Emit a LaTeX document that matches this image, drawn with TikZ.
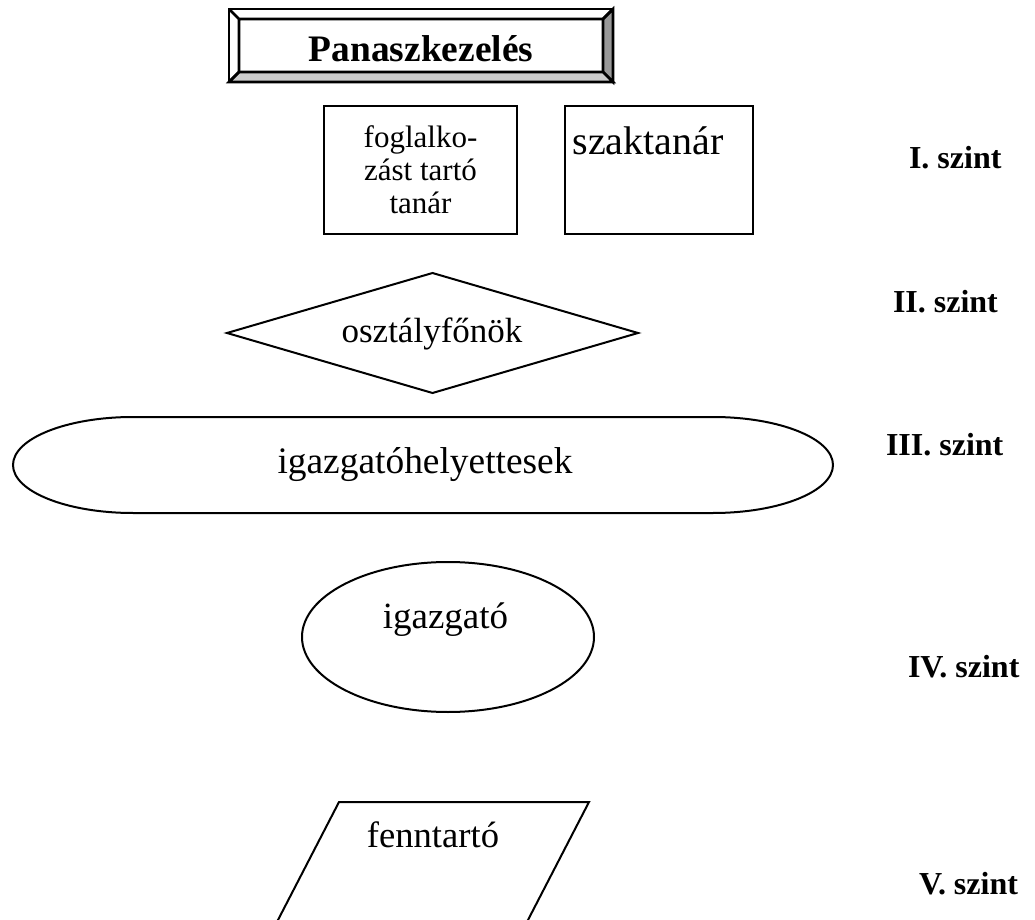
\documentclass[tikz,border=0pt]{standalone}
\usepackage{fontspec}
\setmainfont{Liberation Serif}
\usetikzlibrary{positioning}
\usetikzlibrary{calc}
\usetikzlibrary{shapes.geometric}
\tikzset{
    block/.style={
           rectangle,
           draw=black, line width=1pt,
           minimum height=64pt,
           inner sep=0pt, outer sep=0pt,
           },
    frameless/.style={
           inner sep=0pt,
           anchor=base,
           font=\fontsize{18.5}{22}\selectfont,
           },
    level/.style={
           inner sep=0pt,
           anchor=base west,
           font=\fontsize{16}{19}\selectfont\bfseries,
           },
}

\begin{document}
\begin{tikzpicture}[x=0.5pt, y=-0.5pt, line width=1pt]
	\useasboundingbox (0,0) rectangle (1035,920);

	% title with bevelled frame
	\node[rectangle, line width=1.3pt, minimum width=192pt, minimum height=36.5pt,
		inner sep=0pt, outer sep=0pt] (title) at (421,45.5) {};
	\coordinate (tnw) at ($(title.north west)+(5pt,-5pt)$);
	\coordinate (tne) at ($(title.north east)+(-5pt,-5pt)$);
	\coordinate (tse) at ($(title.south east)+(-5pt,5pt)$);
	\coordinate (tsw) at ($(title.south west)+(5pt,5pt)$);
	\filldraw[fill=black!40, line width=1.3pt] (title.north east) -- (title.south east) -- (tse) -- (tne) -- cycle;
	\filldraw[fill=black!20, line width=1.3pt] (title.south west) -- (title.south east) -- (tse) -- (tsw) -- cycle;
	\draw[line width=1.3pt] (title.north west) -- (tnw) -- (tne) -- (title.north east)
		(tnw) -- (tsw) (title.south west) -- (tsw);
	\draw[line width=1.3pt] (title.north west) rectangle (title.south east);
	\node[frameless, font=\fontsize{18.7}{22}\selectfont\bfseries] (titletext) at (421,62) {Panaszkezelés};

	% I. szint
	\node[block, minimum width=96.5pt] (teacher) at (420.5,170) {};
	\node[frameless, anchor=center, align=center, font=\fontsize{15.5}{16.4}\selectfont]
		(teachertext) at (420.5,170) {foglalko-\\zást tartó\\tanár};
	\node[block, minimum width=94pt] (subject) at (659,170) {};
	\node[frameless, font=\fontsize{20}{24}\selectfont] (subjecttext) at (648,155) {szaktanár};

	% II. szint
	\node[diamond, draw, minimum width=205.5pt, minimum height=60pt,
		inner sep=0pt, outer sep=0pt] (form) at (432.5,333) {};
	\node[frameless, font=\fontsize{17.5}{21}\selectfont] (formtext) at (432,343) {osztályfőnök};

	% III. szint
	\node[rectangle, minimum width=410pt, minimum height=48pt,
		inner sep=0pt, outer sep=0pt] (vice) at (423,465) {};
	\draw ([xshift=60pt]vice.north west) -- ([xshift=-60pt]vice.north east)
		arc[start angle=90, end angle=-90, x radius=60pt, y radius=24pt]
		-- ([xshift=60pt]vice.south west)
		arc[start angle=270, end angle=90, x radius=60pt, y radius=24pt] -- cycle;
	\node[frameless, font=\fontsize{18.7}{22}\selectfont] (vicetext) at (425,473) {igazgatóhelyettesek};

	% IV. szint
	\node[ellipse, draw, minimum width=146pt, minimum height=75pt,
		inner sep=0pt, outer sep=0pt] (head) at (448,637) {};
	\node[frameless] (headtext) at (445.5,628) {igazgató};

	% V. szint
	\coordinate (owntl) at (339,802);
	\coordinate (owntr) at (589,802);
	\coordinate (ownbr) at (507.3,960);
	\coordinate (ownbl) at (257.3,960);
	\draw (owntl) -- (owntr) -- (ownbr) -- (ownbl) -- cycle;
	\node[frameless, font=\fontsize{18.3}{22}\selectfont] (owntext) at (433,847) {fenntartó};

	% levels
	\node[level] (lvl1) at (908,169) {I. szint};
	\node[level] (lvl2) at (892,313) {II. szint};
	\node[level] (lvl3) at (885,455) {III. szint};
	\node[level] (lvl4) at (907,677) {IV. szint};
	\node[level] (lvl5) at (918,894) {V. szint};
\end{tikzpicture}
\end{document}
